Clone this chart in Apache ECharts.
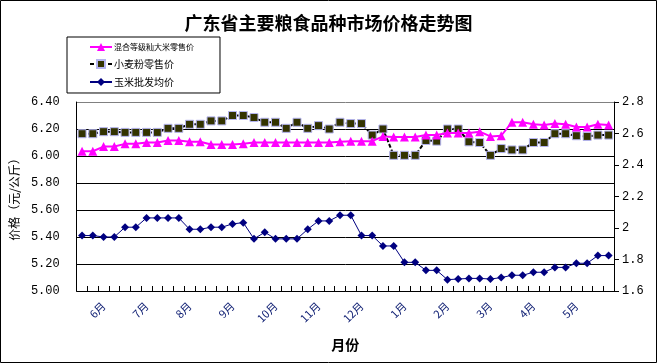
<!DOCTYPE html>
<html>
<head>
<meta charset="utf-8">
<script src="https://cdn.jsdelivr.net/npm/echarts@6/dist/echarts.min.js"></script>
<style>
html,body{margin:0;padding:0;background:#fff;}
#chart{width:657px;height:363px;}
</style>
</head>
<body>
<div id="chart"></div>
<script>
// ---- data ----
const titleText = '广东省主要粮食品种市场价格走势图';
const seriesNames = ['混合等级籼大米零售价', '小麦粉零售价', '玉米批发均价'];
const monthLabels = ['6月','7月','8月','9月','10月','11月','12月','1月','2月','3月','4月','5月'];
const weekCount = 50;
const monthLabelStart = 2;
const monthLabelStep = 4;
const leftTicks = [5.00, 5.20, 5.40, 5.60, 5.80, 6.00, 6.20, 6.40];
const rightTicks = [1.6, 1.8, 2.0, 2.2, 2.4, 2.6, 2.8];

const riceRetail = [6.035,6.035,6.07,6.07,6.09,6.09,6.10,6.10,6.115,6.115,
  6.105,6.105,6.085,6.085,6.085,6.09,6.10,6.10,6.10,6.10,
  6.10,6.10,6.10,6.10,6.105,6.11,6.11,6.11,6.145,6.14,
  6.14,6.14,6.155,6.155,6.17,6.17,6.17,6.18,6.145,6.15,
  6.25,6.25,6.235,6.23,6.24,6.235,6.215,6.215,6.235,6.23];
const flourRetail = [6.165,6.165,6.18,6.18,6.175,6.175,6.175,6.175,6.205,6.205,
  6.235,6.235,6.26,6.26,6.30,6.30,6.285,6.25,6.25,6.205,
  6.25,6.205,6.225,6.20,6.25,6.24,6.24,6.155,6.20,6.005,
  6.005,6.005,6.115,6.11,6.20,6.20,6.105,6.10,6.005,6.055,
  6.045,6.045,6.10,6.10,6.165,6.165,6.15,6.145,6.155,6.155];
const cornWholesale = [1.952,1.952,1.943,1.943,2.005,2.005,2.064,2.064,2.064,2.064,
  1.992,1.992,2.005,2.005,2.026,2.034,1.931,1.973,1.931,1.931,
  1.931,1.992,2.045,2.045,2.081,2.081,1.952,1.952,1.886,1.886,
  1.782,1.782,1.731,1.731,1.672,1.676,1.68,1.68,1.676,1.685,
  1.70,1.70,1.719,1.719,1.75,1.75,1.776,1.776,1.825,1.825];

// category labels: month names at every 4th week
const categories = [];
for (let i = 0; i < weekCount; i++) {
  const k = (i - monthLabelStart) / monthLabelStep;
  categories.push(Number.isInteger(k) && k >= 0 && k < monthLabels.length ? monthLabels[k] : '');
}

const cjk = '"Noto Sans CJK SC", "Noto Sans", sans-serif';
const mono = '"Liberation Mono", "DejaVu Sans Mono", monospace';

const chart = echarts.init(document.getElementById('chart'), null, {renderer: 'canvas'});
const splitColors = leftTicks.map((v, i) => i === leftTicks.length - 1 ? '#808080' : '#000000');

chart.setOption({
  animation: false,
  backgroundColor: '#ffffff',
  title: {
    text: titleText,
    left: 'center',
    top: 9,
    textStyle: {fontFamily: cjk, fontSize: 18, fontWeight: 'bold', color: '#000'}
  },
  legend: {
    orient: 'vertical',
    left: 67,
    top: 37,
    padding: [6, 26, 6, 22],
    itemWidth: 22,
    itemHeight: 10,
    itemGap: 8,
    backgroundColor: '#fff',
    borderColor: '#000',
    borderWidth: 1,
    borderRadius: 0,
    data: seriesNames,
    formatter: function (name) { return name === seriesNames[0] ? '{s|' + name + '}' : name; },
    textStyle: {
      fontFamily: cjk, fontSize: 10, color: '#000', padding: [0,0,0,-3],
      rich: {s: {fontFamily: cjk, fontSize: 8, color: '#000'}}
    }
  },
  grid: {left: 66, right: 43, top: 102, bottom: 72, containLabel: false},
  xAxis: {
    type: 'category',
    data: categories,
    boundaryGap: true,
    name: '月份',
    nameLocation: 'middle',
    nameGap: 47,
    nameTextStyle: {fontFamily: cjk, fontSize: 14, fontWeight: 'bold', color: '#000'},
    axisLine: {lineStyle: {color: '#000', width: 1}},
    axisTick: {show: true, inside: true, length: 5, interval: 0, lineStyle: {color: '#000'}},
    axisLabel: {interval: 0, rotate: 45, margin: 13, fontFamily: cjk, fontSize: 11, color: '#0a1a70'},
    splitLine: {show: false}
  },
  yAxis: [{
    type: 'value',
    min: leftTicks[0],
    max: leftTicks[leftTicks.length - 1],
    interval: 0.2,
    name: '价格（元/公斤）',
    nameLocation: 'middle',
    nameRotate: 90,
    nameGap: 51,
    nameTextStyle: {fontFamily: cjk, fontSize: 12, color: '#000'},
    axisLine: {show: true, lineStyle: {color: '#000'}},
    axisTick: {show: false},
    axisLabel: {margin: 17, fontFamily: mono, fontSize: 12, color: '#000',
      formatter: v => v.toFixed(2)},
    splitLine: {show: true, lineStyle: {color: splitColors, width: 1}}
  }, {
    type: 'value',
    position: 'right',
    min: rightTicks[0],
    max: rightTicks[rightTicks.length - 1],
    interval: 0.2,
    axisLine: {show: true, lineStyle: {color: '#000'}},
    axisTick: {show: true, inside: false, length: 5, lineStyle: {color: '#000'}},
    axisLabel: {margin: 8, fontFamily: mono, fontSize: 12, color: '#000',
      formatter: v => String(Math.round(v * 10) / 10)},
    splitLine: {show: false}
  }],
  series: [{
    name: seriesNames[0],
    type: 'line',
    yAxisIndex: 0,
    data: riceRetail,
    symbol: 'triangle',
    symbolSize: 9,
    itemStyle: {color: '#ff00ff'},
    lineStyle: {color: '#ff00ff', width: 2},
    z: 3
  }, {
    name: seriesNames[1],
    type: 'line',
    yAxisIndex: 0,
    data: flourRetail,
    symbol: 'rect',
    symbolSize: 8,
    itemStyle: {color: '#333300', borderColor: '#b4b4f0', borderWidth: 1},
    lineStyle: {color: '#000', width: 2, type: [4, 2]},
    z: 2
  }, {
    name: seriesNames[2],
    type: 'line',
    yAxisIndex: 1,
    data: cornWholesale,
    symbol: 'diamond',
    symbolSize: 8,
    itemStyle: {color: '#000080'},
    lineStyle: {color: '#000080', width: 1},
    z: 4
  }],
  graphic: [{
    type: 'rect',
    shape: {x: 0.5, y: 0.5, width: 656, height: 362},
    style: {fill: null, stroke: '#000', lineWidth: 1},
    silent: true,
    z: 100
  }]
});
</script>
</body>
</html>
